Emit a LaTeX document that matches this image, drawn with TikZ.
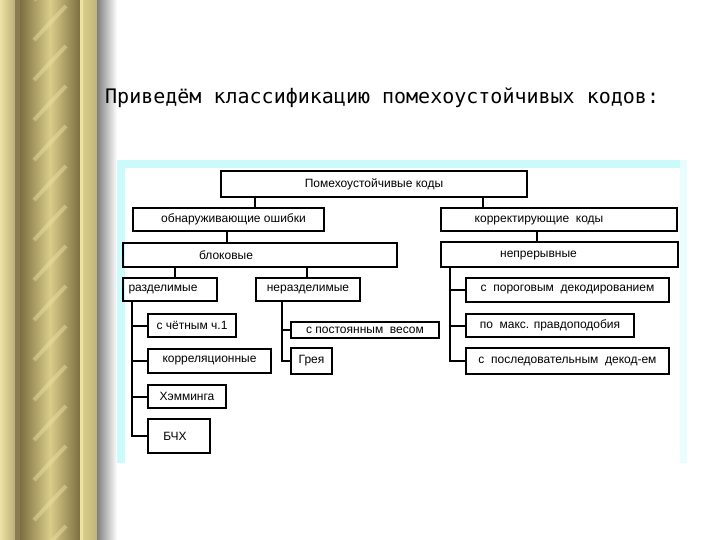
\documentclass[tikz,border=0pt]{standalone}
\usepackage{fontspec}
\newfontfamily\boxfont{Liberation Sans}
\newfontfamily\titlefont{DejaVu Sans Mono}
\definecolor{goldlight}{RGB}{218,205,138}
\definecolor{golddark}{RGB}{125,111,64}
\definecolor{goldpale}{RGB}{238,226,166}
\definecolor{framecyan}{RGB}{204,250,250}

\begin{document}
\begin{tikzpicture}[x=1pt, y=-1pt,
  codebox/.style={draw, line width=2.4pt, anchor=north west, inner sep=0pt,
    font=\boxfont\fontsize{12}{14}\selectfont},
  tag/.style={font=\boxfont\fontsize{12}{14}\selectfont},
  link/.style={line width=2pt}]
\useasboundingbox (0,0) rectangle (720,540);
\fill[white] (0,0) rectangle (720,540);
\fill[goldlight] (0,0) rectangle (97,540);
\shade[left color=goldpale, right color=goldlight!85!black] (0,0) rectangle (15,540);
\fill[golddark!90] (15,0) rectangle (20,540);
\shade[left color=golddark, right color=goldlight] (20,0) rectangle (50,540);
\shade[left color=goldlight, right color=golddark] (50,0) rectangle (80,540);
\begin{scope}
\clip (24,0) rectangle (76,540);
\foreach \y in {0,40,...,600}
  \draw[goldpale, line width=4pt, opacity=0.45] (34,\y) -- (66,\y-34);
\end{scope}
\fill[goldpale] (80,0) rectangle (83,540);
\shade[left color=goldlight, right color=goldlight!88!black] (83,0) rectangle (97,540);
\shade[left color=black!50, right color=white] (97,0) rectangle (117,540);
\node[anchor=base west, inner sep=0pt, font=\titlefont\fontsize{20}{24}\selectfont] (title)
  at (105,104) {Приведём классификацию помехоустойчивых кодов:};
\fill[framecyan] (117,160) rectangle (687,463);
\fill[framecyan!45] (680,160) rectangle (687,463);
\fill[white] (125,168) rectangle (680,463);
\node[codebox, minimum width=305.6pt, minimum height=25.6pt] (codes) at (220,170) {Помехоустойчивые коды};
\node[codebox, minimum width=190.6pt, minimum height=22.6pt,
  label={[tag, xshift=5pt]center:обнаруживающие ошибки}] (detect) at (132,207) {};
\node[codebox, minimum width=235.6pt, minimum height=22.6pt,
  label={[tag, xshift=-20pt, yshift=-1pt]center:корректирующие\ \ коды}] (correct) at (440,207) {};
\node[codebox, minimum width=273.6pt, minimum height=23.6pt,
  label={[tag, xshift=-34pt]center:блоковые}] (block) at (122,242) {};
\node[codebox, minimum width=236.6pt, minimum height=24.6pt,
  label={[tag, xshift=-21pt, yshift=-1pt]center:непрерывные}] (contin) at (440,241) {};
\node[codebox, minimum width=93.6pt, minimum height=22.6pt,
  label={[tag, xshift=-7pt]center:разделимые}] (separ) at (122,277) {};
\node[codebox, minimum width=103.6pt, minimum height=22.6pt] (nonsep) at (255,277) {неразделимые};
\node[codebox, minimum width=202.6pt, minimum height=23.6pt] (thresh) at (465,277) {с\ \ пороговым\ \ декодированием};
\node[codebox, minimum width=87.6pt, minimum height=22.6pt] (parity) at (147,313) {с чётным ч.1};
\node[codebox, minimum width=122.6pt, minimum height=23.6pt] (correl) at (147,348) {корреляционные};
\node[codebox, minimum width=77.6pt, minimum height=22.6pt] (hamming) at (147,384) {Хэмминга};
\node[codebox, minimum width=61.6pt, minimum height=33.6pt,
  label={[tag, xshift=-4pt]center:БЧХ}] (bch) at (147,418) {};
\node[codebox, minimum width=147.6pt, minimum height=15.6pt] (constw) at (290,321) {с постоянным\ \ весом};
\node[codebox, minimum width=40.6pt, minimum height=25.6pt] (gray) at (290,347) {Грея};
\node[codebox, minimum width=167.6pt, minimum height=22.6pt] (maxlik) at (465,313) {по\ \ макс. правдоподобия};
\node[codebox, minimum width=202.6pt, minimum height=25.6pt] (seqdec) at (465,347) {с\ \ последовательным\ \ декод-ем};
\foreach \child/\dx/\parent in {detect/123/codes, correct/43/codes, block/105/detect,
    contin/97/correct, separ/53/block, nonsep/52/block} {
  \coordinate (drop) at ([xshift=\dx pt]\child.north west);
  \draw[link] (drop) -- (drop |- \parent.south);
}
\coordinate (sepbus) at ([xshift=10pt]separ.south west);
\coordinate (nonbus) at ([xshift=27pt]nonsep.south west);
\coordinate (conbus) at ([xshift=10pt]contin.south west);
\foreach \kid in {parity,correl,hamming,bch}
  \draw[link] (sepbus) |- (\kid.west);
\foreach \kid in {constw,gray}
  \draw[link] (nonbus) |- (\kid.west);
\foreach \kid in {thresh,maxlik,seqdec}
  \draw[link] (conbus) |- (\kid.west);
\end{tikzpicture}
\end{document}
